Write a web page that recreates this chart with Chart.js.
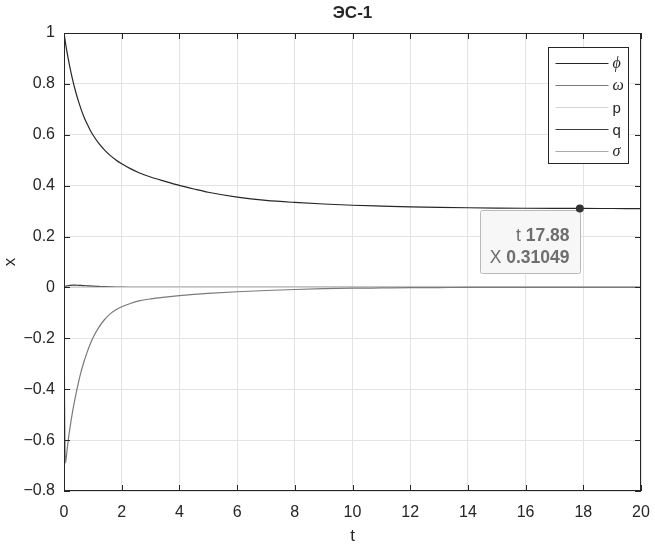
<!DOCTYPE html>
<html>
<head>
<meta charset="utf-8">
<script src="https://cdn.jsdelivr.net/npm/chart.js@4"></script>
<style>
  body { margin: 0; background: #fff; }
  #wrap { width: 655px; height: 549px; }
</style>
</head>
<body>
<div id="wrap"><canvas id="plot"></canvas></div>
<script>
// values
const tVals = [0, 0.02, 0.05, 0.1, 0.15, 0.2, 0.3, 0.4, 0.5, 0.6, 0.7, 0.8, 0.9, 1, 1.2, 1.4, 1.6, 1.8, 2, 2.3, 2.6, 3, 3.5, 4, 4.5, 5, 6, 7, 8, 9, 10, 11, 12, 13, 14, 15, 16, 17, 17.88, 19, 20];
const phiVals = [1, 0.985, 0.962, 0.928, 0.897, 0.868, 0.816, 0.771, 0.732, 0.698, 0.668, 0.643, 0.62, 0.6, 0.567, 0.541, 0.519, 0.501, 0.486, 0.467, 0.451, 0.434, 0.417, 0.401, 0.387, 0.374, 0.355, 0.342, 0.334, 0.328, 0.323, 0.3197, 0.3169, 0.3148, 0.3133, 0.3121, 0.3113, 0.3107, 0.31049, 0.3102, 0.3101];
const omegaVals = [0, -0.45, -0.69, -0.645, -0.598, -0.557, -0.486, -0.427, -0.374, -0.328, -0.289, -0.255, -0.225, -0.199, -0.158, -0.127, -0.104, -0.088, -0.076, -0.063, -0.053, -0.045, -0.038, -0.032, -0.027, -0.023, -0.017, -0.012, -0.008, -0.005, -0.003, -0.002, -0.001, -0.0005, 0, 0, 0, 0, 0, 0, 0];
const pVals = [0, 0, 0, 0, 0, 0, 0, 0, 0, 0, 0, 0, 0, 0, 0, 0, 0, 0, 0, 0, 0, 0, 0, 0, 0, 0, 0, 0, 0, 0, 0, 0, 0, 0, 0, 0, 0, 0, 0, 0, 0];
const qVals = [0, 0.002, 0.004, 0.006, 0.007, 0.008, 0.009, 0.009, 0.0085, 0.008, 0.007, 0.0065, 0.006, 0.005, 0.004, 0.003, 0.0022, 0.0016, 0.0011, 0.0007, 0.0004, 0.0002, 0, 0, 0, 0, 0, 0, 0, 0, 0, 0, 0, 0, 0, 0, 0, 0, 0, 0, 0];
const sigmaVals = [0, 0, 0, 0, 0, 0, 0, 0, 0, 0, 0, 0, 0, 0, 0, 0, 0, 0, 0, 0, 0, 0, 0, 0, 0, 0, 0, 0, 0, 0, 0, 0, 0, 0, 0, 0, 0, 0, 0, 0, 0];

const seriesNames = ["\u03d5", "\u03c9", "p", "q", "\u03c3"];
const xTicks = [0, 2, 4, 6, 8, 10, 12, 14, 16, 18, 20];
const yTicks = [1, 0.8, 0.6, 0.4, 0.2, 0, -0.2, -0.4, -0.6, -0.8];
const yTickLabels = ["1", "0.8", "0.6", "0.4", "0.2", "0", "\u22120.2", "\u22120.4", "\u22120.6", "\u22120.8"];
const tipT = 17.88;
const tipX = 0.31049;

const axisColor = "#262626";
const gridColor = "#e3e3e3";
const sans = "'Liberation Sans', Arial, sans-serif";

function pts(vals) {
  return tVals.map((t, i) => ({ x: t, y: vals[i] }));
}

function line(label, vals, color) {
  return {
    label: label,
    data: pts(vals),
    borderColor: color,
    borderWidth: 1.2,
    pointRadius: 0,
    fill: false,
    cubicInterpolationMode: "monotone",
  };
}

// title, box, inward ticks, legend and data tip, matlab style
const matlabLook = {
  id: "matlabLook",
  afterDatasetsDraw(chart) {
    const { ctx, chartArea: a, scales } = chart;
    const x = scales.x, y = scales.y;
    ctx.save();

    // axes box
    ctx.strokeStyle = axisColor;
    ctx.lineWidth = 1;
    ctx.strokeRect(Math.round(a.left) + 0.5, Math.round(a.top) + 0.5, Math.round(a.right - a.left) - 1, Math.round(a.bottom - a.top) - 1);

    // inward ticks
    ctx.beginPath();
    xTicks.forEach(v => {
      const px = Math.round(x.getPixelForValue(v)) + 0.5;
      ctx.moveTo(px, a.bottom); ctx.lineTo(px, a.bottom - 6);
      ctx.moveTo(px, a.top); ctx.lineTo(px, a.top + 6);
    });
    yTicks.forEach(v => {
      const py = Math.round(y.getPixelForValue(v)) + 0.5;
      ctx.moveTo(a.left, py); ctx.lineTo(a.left + 6, py);
      ctx.moveTo(a.right, py); ctx.lineTo(a.right - 6, py);
    });
    ctx.stroke();

    // title
    ctx.fillStyle = axisColor;
    ctx.font = "bold 17px " + sans;
    ctx.textAlign = "center";
    ctx.textBaseline = "middle";
    ctx.fillText("ЭС-1", (a.left + a.right) / 2, 13);

    // legend
    const lw = 80, lh = 116;
    const lx = Math.round(a.right) - 13 - lw + 0.5;
    const ly = Math.round(a.top) + 14 + 0.5;
    ctx.fillStyle = "#fff";
    ctx.fillRect(lx, ly, lw, lh);
    ctx.strokeStyle = axisColor;
    ctx.strokeRect(lx, ly, lw, lh);
    chart.data.datasets.forEach((ds, i) => {
      const ry = Math.round(ly + 15 + i * 22.2) + 0.5;
      ctx.strokeStyle = ds.borderColor;
      ctx.lineWidth = 1.2;
      ctx.beginPath();
      ctx.moveTo(lx + 7, ry); ctx.lineTo(lx + 60, ry);
      ctx.stroke();
      const greek = /[\u0370-\u03ff]/.test(ds.label);
      ctx.font = greek ? "italic 16px 'Liberation Serif', serif" : "15px " + sans;
      ctx.fillStyle = axisColor;
      ctx.textAlign = "left";
      ctx.textBaseline = "middle";
      ctx.fillText(ds.label, lx + 64, ry + (greek ? 0 : 1));
    });

    // data tip
    const px = x.getPixelForValue(tipT);
    const py = y.getPixelForValue(tipX);
    const bx = Math.round(px) - 100 + 0.5, by = Math.round(py) + 2 + 0.5;
    ctx.fillStyle = "#f7f7f7";
    ctx.strokeStyle = "#b9b9b9";
    ctx.lineWidth = 1;
    ctx.beginPath();
    ctx.roundRect(bx, by, 100, 63, 2);
    ctx.fill();
    ctx.stroke();
    const tx = bx + 89;
    const rows = [["t", tipT.toString()], ["X", tipX.toString()]];
    ctx.textAlign = "right";
    ctx.textBaseline = "alphabetic";
    ctx.fillStyle = "#6e6e6e";
    rows.forEach((r, i) => {
      const base = by + 30 + i * 22;
      ctx.font = "bold 17.5px " + sans;
      ctx.fillText(r[1], tx, base);
      const w = ctx.measureText(r[1]).width;
      ctx.font = "17.5px " + sans;
      ctx.fillText(r[0] + " ", tx - w, base);
    });
    ctx.fillStyle = "#333";
    ctx.beginPath();
    ctx.arc(px, py, 4, 0, Math.PI * 2);
    ctx.fill();

    ctx.restore();
  },
};

const plot = new Chart(document.getElementById("plot"), {
  type: "line",
  data: {
    datasets: [
      line(seriesNames[0], phiVals, "#262626"),
      line(seriesNames[1], omegaVals, "#7a7a7a"),
      line(seriesNames[2], pVals, "#d4d4d4"),
      line(seriesNames[3], qVals, "#3c3c3c"),
      line(seriesNames[4], sigmaVals, "#ababab"),
    ],
  },
  options: {
    responsive: true,
    maintainAspectRatio: false,
    animation: false,
    layout: { padding: { left: 0, right: 14, top: 33, bottom: 0 } },
    scales: {
      x: {
        type: "linear",
        min: 0,
        max: 20,
        afterBuildTicks: (s) => { s.ticks = xTicks.map(v => ({ value: v })); },
        afterFit: (s) => { s.height = 58; s.paddingLeft = 0; s.paddingRight = 0; },
        ticks: { color: axisColor, padding: 12, font: { family: sans, size: 16 }, maxRotation: 0 },
        grid: { color: gridColor, drawTicks: false },
        border: { display: false },
        title: { display: true, text: "t", color: axisColor, font: { family: sans, size: 17 }, padding: { top: 0, bottom: 2 } },
      },
      y: {
        type: "linear",
        min: -0.8,
        max: 1,
        afterBuildTicks: (s) => { s.ticks = yTicks.map(v => ({ value: v })); },
        afterFit: (s) => { s.width = 64; s.paddingTop = 0; s.paddingBottom = 0; },
        ticks: {
          color: axisColor,
          padding: 9,
          font: { family: sans, size: 16 },
          callback: (v) => yTickLabels[yTicks.findIndex(t => Math.abs(t - v) < 1e-9)],
        },
        grid: { color: gridColor, drawTicks: false },
        border: { display: false },
        title: { display: true, text: "x", color: axisColor, font: { family: sans, size: 17 }, padding: { top: 0, bottom: 0 } },
      },
    },
    plugins: {
      legend: { display: false },
      title: { display: false },
      tooltip: { enabled: false },
    },
  },
  plugins: [matlabLook],
});
</script>
</body>
</html>
